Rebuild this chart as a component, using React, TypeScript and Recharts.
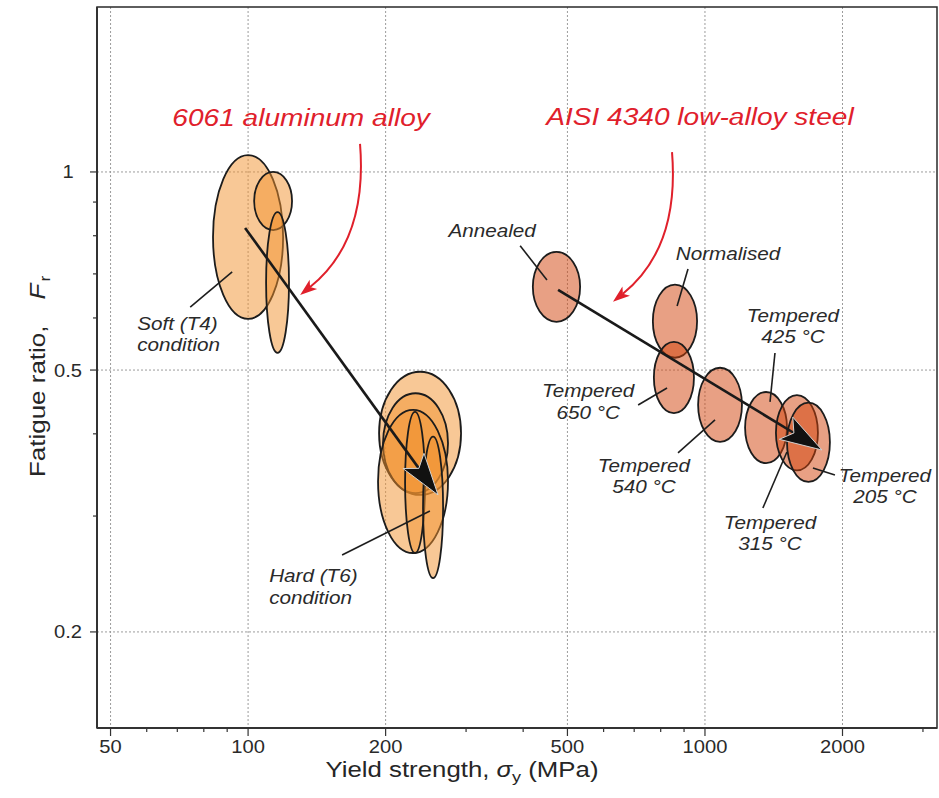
import React from 'react';
import {
  ScatterChart,
  Scatter,
  XAxis,
  YAxis,
  CartesianGrid,
  ReferenceArea,
  ReferenceLine,
} from 'recharts';

const FONT = "'Liberation Sans', Arial, Helvetica, sans-serif";

// ---- axes ----
const xDomain: [number, number] = [46.7, 3220];
const yDomain: [number, number] = [0.1429, 1.781];
const xTicks = [50, 60, 70, 80, 90, 100, 200, 300, 400, 500, 600, 700, 800, 900, 1000, 2000, 3000];
const xMajorTicks = [50, 100, 200, 500, 1000, 2000];
const yTicks = [0.2, 0.3, 0.4, 0.5, 0.6, 0.7, 0.8, 0.9, 1];
const yMajorTicks = [0.2, 0.5, 1];

// ---- property envelopes: ranges of yield strength (MPa) and fatigue ratio ----
type Envelope = { sy: [number, number]; fr: [number, number] };

const aluminumSoftT4: Envelope[] = [
  { sy: [83.8, 119.3], fr: [0.598, 1.061] },
  { sy: [103.1, 124.8], fr: [0.816, 1.0] },
  { sy: [109.5, 122.9], fr: [0.531, 0.869] },
];

const aluminumHardT6: Envelope[] = [
  { sy: [193.5, 292.5], fr: [0.323, 0.497] },
  { sy: [197.4, 273.9], fr: [0.325, 0.461] },
  { sy: [192.5, 273.9], fr: [0.2636, 0.435] },
  { sy: [220.6, 243.9], fr: [0.2636, 0.432] },
  { sy: [241.5, 267.2], fr: [0.2415, 0.396] },
];

const steel4340: Envelope[] = [
  { sy: [420, 533], fr: [0.592, 0.756] }, // annealed
  { sy: [769, 961], fr: [0.522, 0.674] }, // normalised
  { sy: [773, 946], fr: [0.43, 0.552] }, // tempered 650 °C
  { sy: [966, 1205], fr: [0.389, 0.504] }, // tempered 540 °C
  { sy: [1224, 1512], fr: [0.361, 0.463] }, // tempered 425 °C
  { sy: [1430, 1767], fr: [0.352, 0.458] }, // tempered 315 °C
  { sy: [1512, 1877], fr: [0.338, 0.446] }, // tempered 205 °C
];

// ---- trend arrows (soft -> hard) ----
type Seg = { from: [number, number]; to: [number, number] };
const trendArrows: Seg[] = [
  { from: [98.5, 0.822], to: [260.5, 0.323] },
  { from: [477, 0.662], to: [1803, 0.378] },
];

// ---- curved red call-outs from the alloy names ----
const calloutArrows: Seg[] = [
  { from: [175.8, 1.103], to: [130, 0.65] },
  { from: [847, 1.072], to: [629, 0.635] },
];

// ---- leader lines from condition labels ----
const leaderLines: Seg[] = [
  { from: [74.7, 0.6233], to: [92.3, 0.7047] },
  { from: [160.6, 0.2618], to: [250, 0.3053] },
  { from: [394, 0.7722], to: [451, 0.6854] },
  { from: [918, 0.7121], to: [869, 0.6255] },
  { from: [1423, 0.5307], to: [1388, 0.4472] },
  { from: [714, 0.4425], to: [826, 0.4696] },
  { from: [873, 0.3741], to: [1052, 0.42] },
  { from: [1339, 0.3086], to: [1511, 0.3754] },
  { from: [1925, 0.3464], to: [1723, 0.355] },
];

// ---- text annotations ----
type Note = { x: number; y: number; lines: string[]; kind: 'note' | 'title'; anchor?: 'start' | 'middle' };
const annotations: Note[] = [
  { x: 130.6, y: 1.175, lines: ['6061 aluminum alloy'], kind: 'title' },
  { x: 975, y: 1.179, lines: ['AISI 4340 low-alloy steel'], kind: 'title' },
  { x: 57.2, y: 0.5753, lines: ['Soft (T4)', 'condition'], kind: 'note', anchor: 'start' },
  { x: 111.2, y: 0.2381, lines: ['Hard (T6)', 'condition'], kind: 'note', anchor: 'start' },
  { x: 342, y: 0.7966, lines: ['Annealed'], kind: 'note' },
  { x: 1123, y: 0.7351, lines: ['Normalised'], kind: 'note' },
  { x: 1558, y: 0.5916, lines: ['Tempered', '425 °C'], kind: 'note' },
  { x: 555, y: 0.4549, lines: ['Tempered', '650 °C'], kind: 'note' },
  { x: 735, y: 0.35, lines: ['Tempered', '540 °C'], kind: 'note' },
  { x: 1388, y: 0.2867, lines: ['Tempered', '315 °C'], kind: 'note' },
  { x: 2477, y: 0.338, lines: ['Tempered', '205 °C'], kind: 'note' },
];

// translucent fills: overlapping envelopes build up a deeper tone
const ALUMINUM_FILL = '#f2912d';
const STEEL_FILL = '#d14109';
const FILL_OPACITY = 0.5;
const OUTLINE = '#1c1c1c';
const RED = '#e0202b';

// Helvetica-like text drawn slightly wide
function WideText(props: {
  x: number;
  y: number;
  size: number;
  sx: number;
  anchor?: 'start' | 'middle' | 'end';
  italic?: boolean;
  color?: string;
  rotate?: number;
  lineHeight?: number;
  lines?: string[];
  children?: React.ReactNode;
}) {
  const { x, y, size, sx, anchor = 'middle', italic, color = '#262626', rotate, lineHeight = 21, lines, children } = props;
  const tf = `translate(${x},${y})${rotate ? ` rotate(${rotate})` : ''} scale(${sx},1)`;
  return (
    <text
      transform={tf}
      textAnchor={anchor}
      fontFamily={FONT}
      fontSize={size}
      fontStyle={italic ? 'italic' : 'normal'}
      fill={color}
    >
      {lines
        ? lines.map((l, i) => (
            <tspan key={i} x={0} dy={i === 0 ? 0 : lineHeight}>
              {l}
            </tspan>
          ))
        : children}
    </text>
  );
}

const makeEllipse = (fill: string) => (p: any) => {
  const { x, y, width, height } = p;
  if (x == null || y == null) return <g />;
  return (
    <ellipse
      cx={x + width / 2}
      cy={y + height / 2}
      rx={Math.abs(width) / 2}
      ry={Math.abs(height) / 2}
      fill={fill}
      fillOpacity={FILL_OPACITY}
      stroke={OUTLINE}
      strokeWidth={1.8}
    />
  );
};

function headPoints(tx: number, ty: number, ux: number, uy: number, L: number, W: number, notch: number) {
  const nx = -uy;
  const ny = ux;
  const bx = tx - ux * L;
  const by = ty - uy * L;
  const mx = tx - ux * L * notch;
  const my = ty - uy * L * notch;
  return {
    pts: `${tx},${ty} ${bx + nx * W},${by + ny * W} ${mx},${my} ${bx - nx * W},${by - ny * W}`,
    mx,
    my,
  };
}

const TrendArrow = (p: any) => {
  const { x1, y1, x2, y2 } = p;
  if (x1 == null) return <g />;
  const len = Math.hypot(x2 - x1, y2 - y1);
  const ux = (x2 - x1) / len;
  const uy = (y2 - y1) / len;
  const h = headPoints(x2, y2, ux, uy, 42, 13, 0.78);
  return (
    <g>
      <line x1={x1} y1={y1} x2={h.mx} y2={h.my} stroke="#1a1a1a" strokeWidth={2.6} />
      <polygon points={h.pts} fill="#111" stroke="#d0d0d0" strokeWidth={1} strokeLinejoin="miter" />
    </g>
  );
};

const CalloutArrow = (p: any) => {
  const { x1, y1, x2, y2 } = p;
  if (x1 == null) return <g />;
  const cx = x1 + 0.13 * (x1 - x2);
  const cy = y1 + 0.64 * (y2 - y1);
  const len = Math.hypot(x2 - cx, y2 - cy);
  const ux = (x2 - cx) / len;
  const uy = (y2 - cy) / len;
  const h = headPoints(x2, y2, ux, uy, 17, 6, 0.75);
  return (
    <g>
      <path d={`M${x1},${y1} Q${cx},${cy} ${h.mx},${h.my}`} fill="none" stroke={RED} strokeWidth={2} />
      <polygon points={h.pts} fill={RED} />
    </g>
  );
};

const AnnotationShape = (p: any) => {
  const { cx, cy, payload } = p;
  if (cx == null || !payload) return <g />;
  const n = payload as Note;
  if (n.kind === 'title') {
    return <WideText x={cx} y={cy} size={24} sx={1.17} italic color={RED} lines={n.lines} />;
  }
  return (
    <WideText
      x={cx}
      y={cy}
      size={18}
      sx={1.15}
      italic
      anchor={n.anchor ?? 'middle'}
      color="#2a2a2a"
      lineHeight={21.5}
      lines={n.lines}
    />
  );
};

const XTick = (p: any) => {
  const { x, y, payload } = p;
  const v = payload.value;
  const major = xMajorTicks.includes(v);
  return (
    <g>
      <line x1={x} x2={x} y1={y} y2={y + (major ? 8 : 4)} stroke="#333" strokeWidth={1.2} />
      {major && (
        <WideText x={x} y={y + 25} size={18} sx={1.12} color="#2a2a2a">
          {String(v)}
        </WideText>
      )}
    </g>
  );
};

const YTick = (p: any) => {
  const { x, y, payload } = p;
  const v = payload.value;
  const major = yMajorTicks.includes(v);
  return (
    <g>
      <line x1={x - (major ? 7 : 4)} x2={x} y1={y} y2={y} stroke="#333" strokeWidth={1.2} />
      {major && (
        <WideText x={x - 29} y={y + 6.5} size={18} sx={1.12} anchor="middle" color="#2a2a2a">
          {String(v)}
        </WideText>
      )}
    </g>
  );
};

const XTitle = (p: any) => {
  const vb = p.viewBox ?? { x: 97, y: 728, width: 840, height: 70 };
  return (
    <WideText x={vb.x + 365} y={vb.y + 49} size={21.5} sx={1.2} color="#262626">
      <tspan>Yield strength, </tspan>
      <tspan fontStyle="italic">σ</tspan>
      <tspan fontSize={15} dy={5}>
        y
      </tspan>
      <tspan dy={-5}> (MPa)</tspan>
    </WideText>
  );
};

const YTitle = (p: any) => {
  const vb = p.viewBox ?? { x: 0, y: 7, width: 97, height: 721 };
  return (
    <WideText x={vb.x + 45} y={vb.y + 470} size={22} sx={1.18} anchor="start" rotate={-90} color="#262626">
      <tspan>Fatigue ratio,</tspan>
      <tspan dx={22} fontStyle="italic">
        F
      </tspan>
      <tspan fontSize={15} dy={5} dx={2}>
        r
      </tspan>
    </WideText>
  );
};

export default function App() {
  return (
    <div style={{ position: 'absolute', left: 0, top: 0, background: '#fff' }}>
      <ScatterChart width={939} height={798} margin={{ top: 7, right: 2, bottom: 0, left: 0 }}>
        <CartesianGrid
          verticalValues={xMajorTicks}
          horizontalValues={yMajorTicks}
          stroke="#9c9c9c"
          strokeDasharray="2 2"
          strokeWidth={1}
        />
        <XAxis
          type="number"
          dataKey="x"
          scale="log"
          domain={xDomain}
          allowDataOverflow
          ticks={xTicks}
          interval={0}
          tick={XTick}
          tickLine={false}
          tickSize={0}
          tickMargin={0}
          axisLine={{ stroke: '#333', strokeWidth: 2 }}
          height={70}
          label={XTitle}
        />
        <YAxis
          type="number"
          dataKey="y"
          scale="log"
          domain={yDomain}
          allowDataOverflow
          ticks={yTicks}
          interval={0}
          tick={YTick}
          tickLine={false}
          tickSize={0}
          tickMargin={0}
          axisLine={{ stroke: '#333', strokeWidth: 2 }}
          width={97}
          label={YTitle}
        />

        {/* plot frame */}
        <ReferenceArea
          x1={xDomain[0]}
          x2={xDomain[1]}
          y1={yDomain[0]}
          y2={yDomain[1]}
          fill="none"
          stroke="#2a2a2a"
          strokeWidth={1.5}
          fillOpacity={0}
        />

        {aluminumSoftT4.map((e, i) => (
          <ReferenceArea key={`t4-${i}`} x1={e.sy[0]} x2={e.sy[1]} y1={e.fr[0]} y2={e.fr[1]} shape={makeEllipse(ALUMINUM_FILL)} />
        ))}
        {aluminumHardT6.map((e, i) => (
          <ReferenceArea key={`t6-${i}`} x1={e.sy[0]} x2={e.sy[1]} y1={e.fr[0]} y2={e.fr[1]} shape={makeEllipse(ALUMINUM_FILL)} />
        ))}
        {steel4340.map((e, i) => (
          <ReferenceArea key={`st-${i}`} x1={e.sy[0]} x2={e.sy[1]} y1={e.fr[0]} y2={e.fr[1]} shape={makeEllipse(STEEL_FILL)} />
        ))}

        {leaderLines.map((s, i) => (
          <ReferenceLine
            key={`ld-${i}`}
            segment={[
              { x: s.from[0], y: s.from[1] },
              { x: s.to[0], y: s.to[1] },
            ]}
            stroke="#1e1e1e"
            strokeWidth={1.6}
          />
        ))}

        {calloutArrows.map((s, i) => (
          <ReferenceLine
            key={`co-${i}`}
            segment={[
              { x: s.from[0], y: s.from[1] },
              { x: s.to[0], y: s.to[1] },
            ]}
            shape={CalloutArrow}
          />
        ))}

        {trendArrows.map((s, i) => (
          <ReferenceLine
            key={`tr-${i}`}
            segment={[
              { x: s.from[0], y: s.from[1] },
              { x: s.to[0], y: s.to[1] },
            ]}
            shape={TrendArrow}
          />
        ))}

        <Scatter data={annotations} shape={AnnotationShape} isAnimationActive={false} />
      </ScatterChart>
    </div>
  );
}
